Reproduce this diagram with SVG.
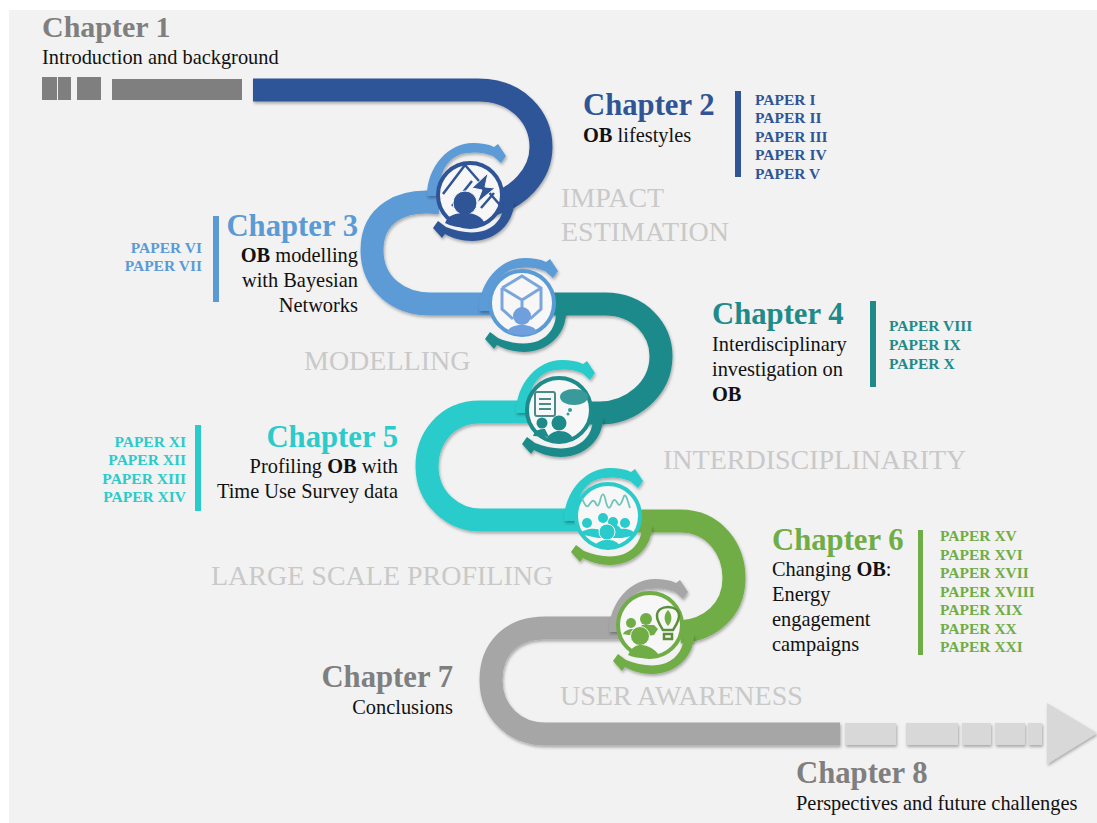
<svg xmlns="http://www.w3.org/2000/svg" width="1097" height="823" viewBox="0 0 1097 823">
<style>
text{font-family:"Liberation Serif","Times New Roman",serif}
.ch{font-size:30.7px;font-weight:700}
.b{font-size:20.4px;fill:#111}
.b tspan{font-weight:700}
.p{font-size:15.5px;font-weight:700}
.l{font-size:28px;fill:#c9c9c9}
.e{text-anchor:end}
.rib{fill:none;stroke-width:23}
.c1{color:#2F5597}.c2{color:#5B9BD5}.c3{color:#1F8A8A}.c4{color:#2BCBCB}.c5{color:#70AD47}.c6{color:#A6A6A6}
.ring{fill:#f7f7f7;stroke:currentColor;stroke-width:4}
.fillc{fill:currentColor}
</style>
<defs>
<filter id="sh" x="-10%" y="-10%" width="120%" height="120%"><feDropShadow dx="1" dy="2" stdDeviation="1.5" flood-color="#000" flood-opacity=".3"/></filter>
<path id="topArc" class="fillc" filter="url(#sh)" d="M-42 6C-42 -24 -20 -47 4 -47C12 -47 19 -46 25 -43L29 -46L37 -34L32 -27L24 -34C14 -38 6 -38 -2 -37C-20 -35 -30 -20 -30 6Z"/>
<path id="botArc" class="fillc" filter="url(#sh)" d="M44 10C44 32 25 49 2 49C-9 49 -18 46 -25 42L-28 46L-37 36L-32 29L-24 35C-10 41 6 42 16 38C28 33 34 22 34 10Z"/>
</defs>
<rect width="1097" height="823" fill="#fff"/>
<rect x="9" y="10" width="1088" height="813" fill="#f2f2f2"/>

<g id="start-segments" fill="#7f7f7f">
<rect x="42" y="77" width="15" height="23"/><rect x="58" y="77" width="13" height="23"/><rect x="77" y="77" width="24" height="23"/><rect x="112" y="79" width="130" height="21"/>
</g>

<g id="connectors" filter="url(#sh)">
<path class="rib" stroke="#5B9BD5" d="M440 203C400 198 372 215 372 250C372 285 400 304 430 304H495"/>
<path class="rib" stroke="#2F5597" d="M253 90H478C518 90 541 118 541 147C541 175 518 198 490 205"/>
<path class="rib" stroke="#1F8A8A" d="M550 304H605C640 304 661 330 661 356C661 390 630 413 600 413H550"/>
<path class="rib" stroke="#2BCBCB" d="M530 412H480C445 412 427 440 427 466C427 500 455 520 480 520H590"/>
<path class="rib" stroke="#70AD47" d="M635 521H680C715 521 734 550 734 578C734 610 710 630 680 632"/>
<path class="rib" stroke="#A6A6A6" d="M625 628H545C510 628 491 650 491 680C491 712 515 734 545 734H840"/>
<g fill="#d8d8d8"><rect x="845" y="723" width="51" height="22"/><rect x="906" y="723" width="52" height="22"/><rect x="962" y="723" width="29" height="22"/><rect x="995" y="723" width="30" height="22"/><rect x="1028" y="723" width="14" height="22"/></g>
<path fill="#d8d8d8" d="M1047 703L1097 733L1047 764Z"/>
</g>

<g id="node-1">
<use href="#topArc" x="469" y="190" class="c2"/><use href="#botArc" x="470" y="192" class="c1"/>
<g class="c1" transform="translate(470 195)">
<circle class="ring" r="32"/>
<path fill="none" stroke="currentColor" stroke-width="2.5" d="M-27 -1L-5 -30M-5 -30L30 10M-18 11L2 -14M11 13L24 -2"/>
<path class="fillc" stroke="#f7f7f7" d="M18 -22L2 -7L12 -5L7 8L25 -7L15 -8Z"/>
<circle class="fillc" cx="-5" cy="8" r="12" stroke="#f7f7f7"/><path class="fillc" d="M-25 28C-22 20 -14 18 -5 18C6 18 12 22 15 29C7 34 -15 34 -25 28Z"/>
</g></g>

<g id="node-2">
<use href="#topArc" x="521" y="305" class="c2"/><use href="#botArc" x="522" y="303" class="c3"/>
<g class="c2" transform="translate(522 303)">
<circle class="ring" r="32"/>
<path fill="none" stroke="#7ba6dc" stroke-width="3" d="M-20 -15L0 -27L19 -15L19 6L8 16M-20 -15L-20 6L-9 16M-20 -15L0 -3L19 -15M0 -3V8"/>
<circle fill="#6f9fdc" cx="0" cy="13" r="9"/><path fill="#6f9fdc" d="M-15 29C-13 24 -7 22 0 22C7 22 13 24 15 29C8 33 -8 33 -15 29Z"/>
</g></g>

<g id="node-3">
<use href="#topArc" x="558" y="407" class="c4"/><use href="#botArc" x="559" y="408" class="c3"/>
<g class="c3" transform="translate(559 410)">
<circle class="ring" r="32"/>
<g fill="none" stroke="#4a8a8a" stroke-width="2"><rect x="-24" y="-18" width="20" height="24" rx="2"/><path d="M-20 -11H-8M-20 -6H-8M-20 -1H-8"/></g>
<ellipse cx="15" cy="-13" rx="14" ry="8" fill="#3a9a9a"/><circle cx="11" cy="0" r="2" fill="#3a9a9a"/><circle cx="9" cy="4" r="1.5" fill="#3a9a9a"/>
<circle class="fillc" cx="-17" cy="13" r="5.5"/><circle class="fillc" cx="0" cy="13" r="7.5"/>
<path class="fillc" d="M-26 26C-24 20 -20 19 -14 19L-10 27ZM-13 30C-10 23 -4 21 0 21C8 21 12 24 15 30C7 32 -6 32 -13 30Z"/>
</g></g>

<g id="node-4">
<use href="#topArc" x="606" y="515" class="c4"/><use href="#botArc" x="608" y="516" class="c5"/>
<g class="c4" transform="translate(608 516)">
<circle class="ring" r="32"/>
<path fill="none" stroke="#6fc4bb" stroke-width="1.8" d="M-26 -18C-23 -10 -21 -8 -19 -11C-17 -14 -15 -17 -13 -14C-11 -10 -10 -8 -8 -15C-6 -24 -4 -24 -2 -14C0 -6 2 -7 4 -13C6 -18 8 -16 10 -12C12 -9 14 -14 16 -20C18 -23 20 -14 22 -8"/>
<circle class="fillc" cx="-21" cy="7" r="5"/><circle class="fillc" cx="-5" cy="2" r="5"/><circle class="fillc" cx="5" cy="6" r="5"/><circle class="fillc" cx="17" cy="7" r="5"/>
<path class="fillc" d="M-29 18C-24 13 -12 11 -7 15L-2 9C2 6 10 8 13 13C18 12 26 14 28 19L14 22L-10 22Z"/>
<circle cx="-1" cy="16" r="8" class="fillc" stroke="#f7f7f7"/><path class="fillc" d="M-14 30C-10 25 -5 24 -1 24C5 24 9 25 12 30C6 32 -8 32 -14 30Z"/>
</g></g>

<g id="node-5">
<use href="#topArc" x="651" y="626" class="c6"/><use href="#botArc" x="650" y="625" class="c5"/>
<g class="c5" transform="translate(650 625)">
<circle class="ring" r="32"/>
<circle class="fillc" cx="-19" cy="-2" r="5"/><circle class="fillc" cx="-4" cy="-6" r="6"/>
<path class="fillc" d="M-27 9C-25 4 -16 3 -12 5L-8 0L4 0L8 4L4 10L-10 12Z"/>
<circle cx="-10" cy="11" r="9.5" class="fillc" stroke="#f7f7f7"/><path class="fillc" d="M-22 30C-18 22 -14 20 -9 20C-3 20 6 24 10 32C0 34 -14 34 -22 30Z"/>
<path fill="none" stroke="#5d8f38" stroke-width="2.5" d="M13 5C10 0 7 -4 7 -9C7 -15 12 -18 18 -18C24 -18 29 -15 29 -9C29 -4 26 0 23 5ZM14 9H22V14H14Z"/>
<path class="fillc" d="M18 -15C13 -10 14 -3 18 1C22 -3 23 -10 18 -15Z"/>
</g></g>

<g id="chapter-1"><text class="ch" x="42" y="37" fill="#7f7f7f" style="font-size:30px">Chapter 1</text><text class="b" x="42" y="64">Introduction and background</text></g>
<g id="chapter-2" fill="#2F5597"><text class="ch" x="583" y="115">Chapter 2</text><text class="b" x="583" y="142"><tspan>OB</tspan> lifestyles</text>
<rect x="735" y="91" width="6" height="86"/>
<g class="p"><text x="755" y="105">PAPER I</text><text x="755" y="123">PAPER II</text><text x="755" y="142">PAPER III</text><text x="755" y="160">PAPER IV</text><text x="755" y="179">PAPER V</text></g></g>
<g id="chapter-3" fill="#5B9BD5"><text class="ch e" x="358" y="236">Chapter 3</text>
<text class="b e" x="358" y="262"><tspan>OB</tspan> modelling</text><text class="b e" x="358" y="287">with Bayesian</text><text class="b e" x="358" y="312">Networks</text>
<rect x="213" y="216" width="6" height="86"/>
<g class="p e"><text x="202" y="253">PAPER VI</text><text x="202" y="271">PAPER VII</text></g></g>
<g id="chapter-4" fill="#1F8A8A"><text class="ch" x="712" y="324">Chapter 4</text>
<text class="b" x="712" y="351">Interdisciplinary</text><text class="b" x="712" y="376">investigation on</text><text class="b" x="712" y="401"><tspan>OB</tspan></text>
<rect x="870" y="301" width="6" height="86"/>
<g class="p"><text x="889" y="331">PAPER VIII</text><text x="889" y="350">PAPER IX</text><text x="889" y="369">PAPER X</text></g></g>
<g id="chapter-5" fill="#2BCBCB"><text class="ch e" x="398" y="447">Chapter 5</text>
<text class="b e" x="398" y="473">Profiling <tspan>OB</tspan> with</text><text class="b e" x="398" y="498">Time Use Survey data</text>
<rect x="195" y="425" width="6" height="86"/>
<g class="p e"><text x="186" y="447">PAPER XI</text><text x="186" y="465">PAPER XII</text><text x="186" y="484">PAPER XIII</text><text x="186" y="502">PAPER XIV</text></g></g>
<g id="chapter-6" fill="#70AD47"><text class="ch" x="772" y="550">Chapter 6</text>
<text class="b" x="772" y="576">Changing <tspan>OB</tspan>:</text><text class="b" x="772" y="601">Energy</text><text class="b" x="772" y="626">engagement</text><text class="b" x="772" y="651">campaigns</text>
<rect x="918" y="530" width="5" height="125"/>
<g class="p"><text x="940" y="541">PAPER XV</text><text x="940" y="560">PAPER XVI</text><text x="940" y="578">PAPER XVII</text><text x="940" y="597">PAPER XVIII</text><text x="940" y="615">PAPER XIX</text><text x="940" y="634">PAPER XX</text><text x="940" y="652">PAPER XXI</text></g></g>
<g id="chapter-7"><text class="ch e" x="453" y="687" fill="#7f7f7f">Chapter 7</text><text class="b e" x="453" y="714">Conclusions</text></g>
<g id="chapter-8"><text class="ch" x="796" y="783" fill="#7f7f7f">Chapter 8</text><text class="b" x="796" y="810">Perspectives and future challenges</text></g>
<g id="stage-labels" class="l">
<text x="561" y="207">IMPACT</text><text x="561" y="241">ESTIMATION</text><text x="304" y="370">MODELLING</text><text x="663" y="469">INTERDISCIPLINARITY</text><text x="211" y="585">LARGE SCALE PROFILING</text><text x="560" y="705">USER AWARENESS</text>
</g>
</svg>
